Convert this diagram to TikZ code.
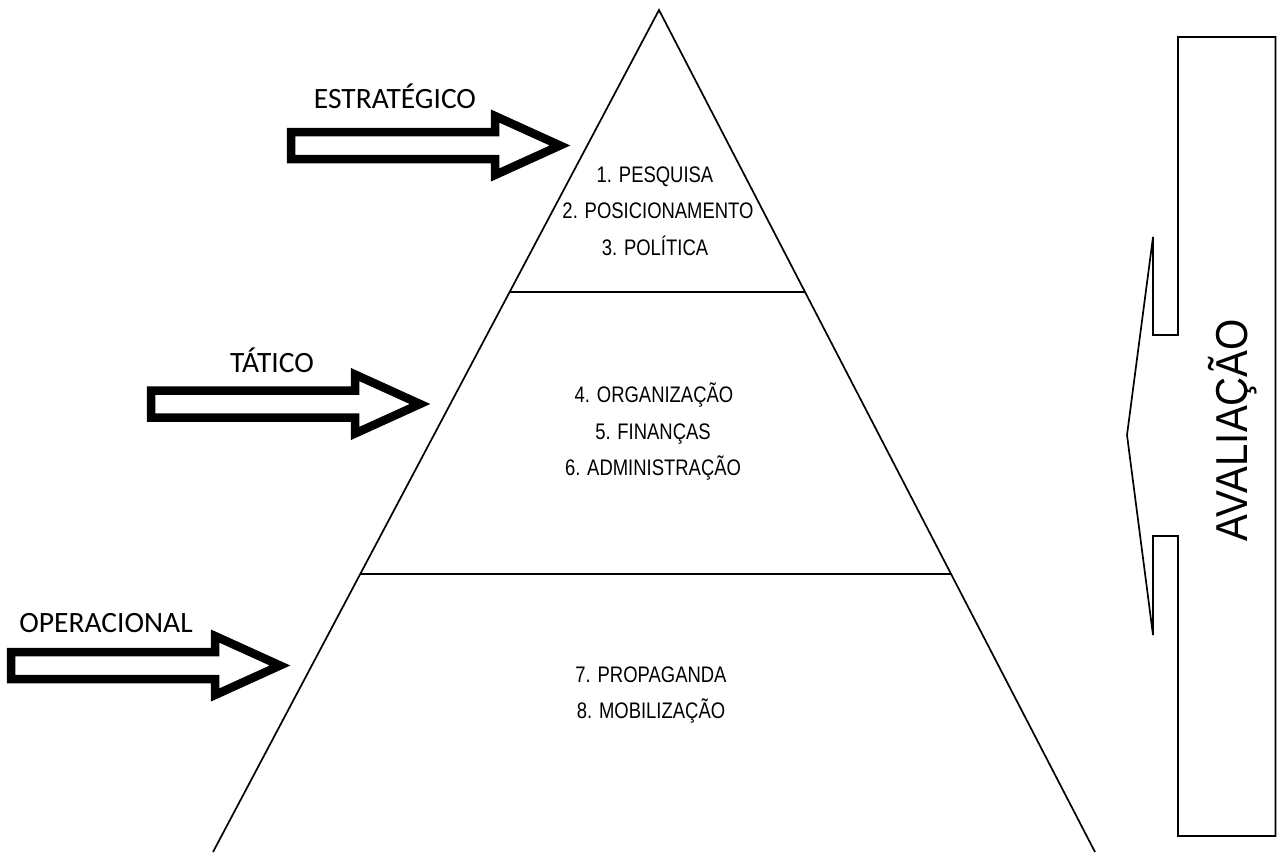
\documentclass[tikz,border=0pt]{standalone}
\usepackage{fontspec}
\setmainfont{Carlito}
\newfontfamily\narrowfont{Liberation Sans}[FakeStretch=0.82]
\newfontfamily\evalfont{Liberation Sans}[FakeStretch=0.9]
\usetikzlibrary{calc}

\begin{document}
\begin{tikzpicture}[x=1pt,y=-1pt,
  edge/.style={line width=1.7pt, line join=miter},
  blockarrow/.style={line width=8.5pt, line join=miter, miter limit=10},
  level/.style={font=\narrowfont\fontsize{22.5}{27}\selectfont, anchor=base, inner sep=0pt},
  tier/.style={font=\fontsize{29.5}{34}\selectfont, anchor=base, inner sep=0pt},
  pics/bigarrow/.style={code={
    \draw[blockarrow] (-269,-13.5) -- (-65,-13.5) -- (-65,-29.5) -- (0,0)
      -- (-65,29.5) -- (-65,13.5) -- (-269,13.5) -- cycle;}}
]
\path[use as bounding box] (0,0) rectangle (1277,852);

% pyramid outline and its three levels
\coordinate (apex) at (659,10);
\coordinate (bl) at (213,852);
\coordinate (br) at (1095,852);
\draw[edge] (bl) -- (apex) -- (br);
\coordinate (l1) at ($(apex)!0.3349!(bl)$);
\coordinate (r1) at ($(apex)!0.3349!(br)$);
\coordinate (l2) at ($(apex)!0.6698!(bl)$);
\coordinate (r2) at ($(apex)!0.6698!(br)$);
\draw[edge] (l1) -- (r1);
\draw[edge] (l2) -- (r2);

% level contents
\node[level] (p1) at (655,182) {1. PESQUISA};
\node[level] (p2) at (658,218.5) {2. POSICIONAMENTO};
\node[level] (p3) at (655,255) {3. POLÍTICA};
\node[level] (p4) at (654,402) {4. ORGANIZAÇÃO};
\node[level] (p5) at (653,439) {5. FINANÇAS};
\node[level] (p6) at (653,475) {6. ADMINISTRAÇÃO};
\node[level] (p7) at (651,682) {7. PROPAGANDA};
\node[level] (p8) at (651,718) {8. MOBILIZAÇÃO};

% tier labels with their block arrows
\node[tier] (est) at (395,108) {ESTRATÉGICO};
\pic at (560,145.5) {bigarrow};
\node[tier] (tat) at (272,372) {TÁTICO};
\pic at (420,404) {bigarrow};
\node[tier] (ope) at (106,632) {OPERACIONAL};
\pic at (280,665.5) {bigarrow};

% evaluation callout on the right
\draw[edge] (1275.5,37) -- (1178,37) -- (1178,335) -- (1153,335) -- (1153,237)
  -- (1127,435) -- (1153,635) -- (1153,536) -- (1178,536) -- (1178,836)
  -- (1275.5,836) -- cycle;
\node[font=\evalfont\fontsize{44.7}{50}\selectfont, rotate=90, anchor=base, inner sep=0pt]
  (aval) at (1247,430) {AVALIAÇÃO};
\end{tikzpicture}
\end{document}
